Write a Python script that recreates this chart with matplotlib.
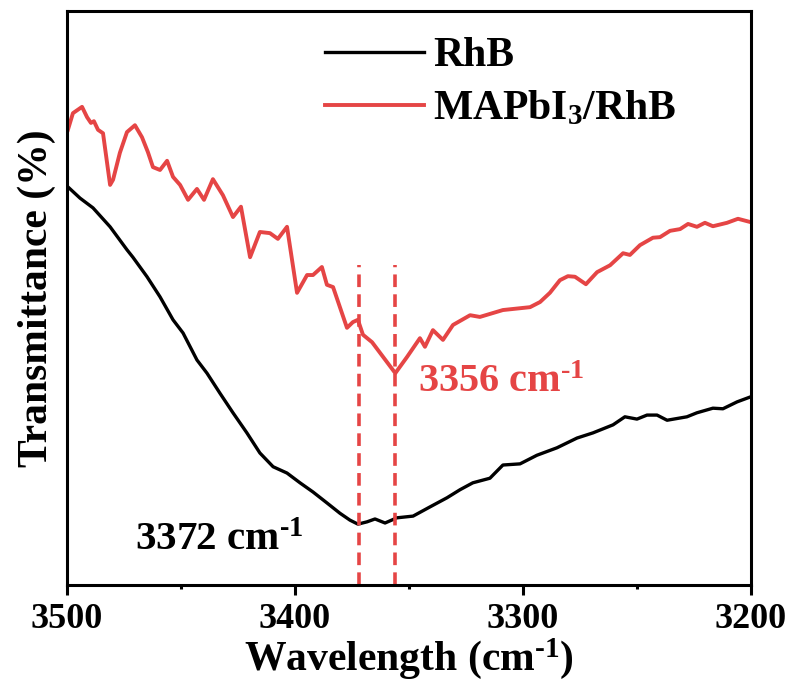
import matplotlib.pyplot as plt
from matplotlib.ticker import MultipleLocator

plt.rcParams['font.family'] = ['Liberation Serif', 'DejaVu Serif']
plt.rcParams['font.weight'] = 'bold'
plt.rcParams['axes.labelweight'] = 'bold'
plt.rcParams['mathtext.fontset'] = 'custom'
plt.rcParams['mathtext.rm'] = 'Liberation Serif:bold'
plt.rcParams['mathtext.bf'] = 'Liberation Serif:bold'
plt.rcParams['mathtext.it'] = 'Liberation Serif:bold'

# RhB spectrum (wavenumber, transmittance a.u.)
rhb_w = [3500, 3494.3, 3488.6, 3481.1, 3473.7, 3471.1, 3464.9, 3459.2, 3453.5, 3449.1,
         3443.0, 3438.6, 3432.9, 3427.2, 3421.1, 3415.4, 3409.6, 3403.5, 3397.8, 3392.1,
         3386.0, 3380.3, 3375.9, 3372.4, 3368.4, 3364.9, 3360.5, 3355.3, 3348.2, 3340.8,
         3333.3, 3327.6, 3322.0, 3314.5, 3308.8, 3301.3, 3293.9, 3285.1, 3276.3, 3269.3,
         3260.5, 3255.3, 3250.0, 3245.6, 3241.2, 3236.8, 3228.1, 3223.7, 3216.7, 3212.3,
         3206.1, 3200.0]
rhb_t = [69.5, 67.4, 65.7, 62.4, 58.4, 57.1, 53.7, 50.2, 46.2, 43.9,
         39.2, 36.9, 33.4, 30.0, 26.5, 23.0, 20.6, 19.5, 17.8, 16.2,
         14.3, 12.5, 11.3, 10.6, 11.0, 11.5, 10.8, 11.7, 12.0, 13.6,
         15.2, 16.6, 17.8, 18.6, 20.9, 21.1, 22.6, 23.9, 25.6, 26.5,
         27.9, 29.3, 28.9, 29.6, 29.6, 28.7, 29.3, 30.0, 30.8, 30.7,
         31.9, 32.8]

# MAPbI3/RhB spectrum
map_w = [3499.6, 3497.4, 3493.4, 3491.2, 3489.5, 3488.2, 3486.4, 3484.2, 3481.1, 3479.8,
         3476.8, 3473.7, 3470.2, 3467.1, 3464.5, 3462.3, 3459.2, 3456.1, 3453.5, 3450.4,
         3446.9, 3443.0, 3439.9, 3436.0, 3431.6, 3427.2, 3423.7, 3419.7, 3415.4, 3411.0,
         3407.5, 3403.5, 3399.1, 3394.7, 3392.1, 3388.2, 3386.0, 3383.3, 3377.2, 3374.6,
         3372.4, 3370.2, 3366.2, 3356.0, 3350.9, 3345.2, 3343.0, 3339.5, 3335.1, 3330.7,
         3323.2, 3318.9, 3308.8, 3296.9, 3292.5, 3288.2, 3283.8, 3280.3, 3277.2, 3272.4,
         3267.5, 3261.8, 3256.1, 3253.1, 3248.7, 3243.0, 3239.9, 3235.5, 3231.1, 3227.6,
         3223.7, 3220.2, 3216.7, 3210.5, 3205.7, 3200.0]
map_t = [79.3, 82.2, 83.3, 81.5, 80.5, 80.8, 79.3, 78.7, 69.7, 70.6,
         75.3, 78.9, 80.1, 78.0, 75.4, 72.8, 72.3, 73.9, 71.1, 69.7,
         67.1, 69.0, 67.1, 70.7, 67.9, 64.1, 65.9, 57.1, 61.5, 61.3,
         60.3, 62.4, 50.9, 54.0, 54.0, 55.4, 52.3, 51.9, 44.8, 45.8,
         46.2, 43.6, 42.3, 36.9, 39.7, 43.0, 41.5, 44.4, 42.7, 45.3,
         47.0, 46.7, 47.9, 48.4, 49.3, 50.9, 53.1, 53.8, 53.7, 52.4,
         54.5, 55.7, 57.8, 57.5, 59.2, 60.5, 60.6, 61.7, 62.0, 62.9,
         62.4, 63.1, 62.5, 63.1, 63.8, 63.2]

peaks = [3372, 3356]
red = '#E54545'
inv_cm = r'cm$^{\text{-1}}$'

fig = plt.figure(figsize=(7.91, 6.87), dpi=100)
ax = fig.add_axes([0.0847, 0.1485, 0.8647, 0.8355])

ax.plot(rhb_w, rhb_t, color='black', lw=2.4, label='RhB')
ax.plot(map_w, map_t, color=red, lw=2.8, label=r'MAPbI$_3$/RhB')
for p in peaks:
    ax.plot([p, p], [0, 55.7], color=red, lw=2.6, ls=(0, (3.5, 2)))

ax.text(3346, 35.2, '3356 ' + inv_cm, color=red, fontsize=29, va='center', ha='left')
ax.text(3470, 7.8, '3372 ' + inv_cm, color='black', fontsize=29.5, va='center', ha='left')

ax.set_xlim(3500, 3200)
ax.set_ylim(0, 100)
ax.xaxis.set_major_locator(MultipleLocator(100))
ax.xaxis.set_minor_locator(MultipleLocator(50))
ax.set_yticks([])
ax.tick_params(axis='x', which='major', length=7, width=2.2, labelsize=26, pad=6)
ax.tick_params(axis='x', which='minor', length=3, width=2.2)
for s in ax.spines.values():
    s.set_linewidth(2.2)

ax.set_xlabel('Wavelength (' + inv_cm + ')', fontsize=30, labelpad=0)
ax.set_ylabel('Transmittance (%)', fontsize=30, labelpad=8)

ax.legend(loc='upper left', bbox_to_anchor=(0.411, 0.946), bbox_transform=fig.transFigure,
          frameon=False, fontsize=30, handlelength=2.37, handletextpad=0.22,
          labelspacing=0.34, borderpad=0, borderaxespad=0)

fig.savefig('out.png', dpi=100)
